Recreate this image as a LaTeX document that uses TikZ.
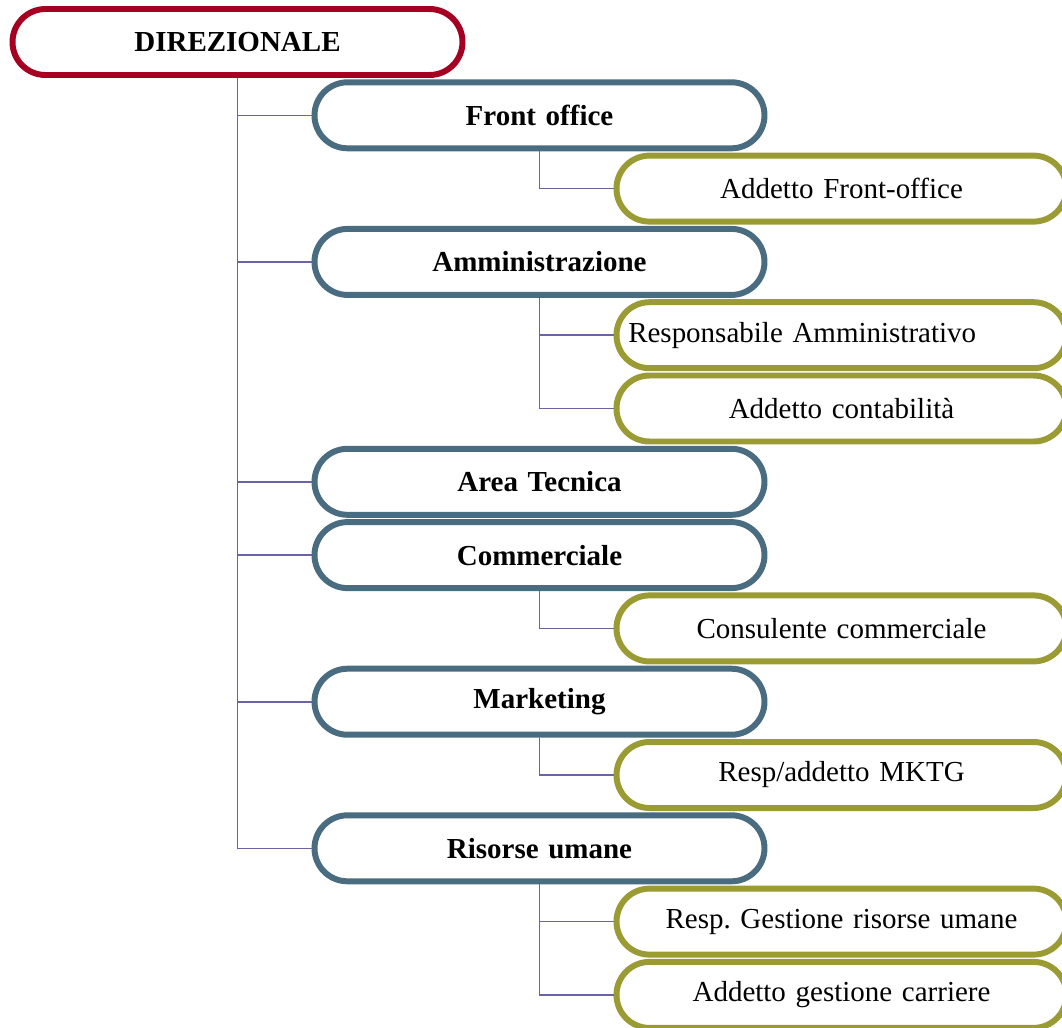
\documentclass[tikz,border=0pt]{standalone}
\usepackage{fontspec}
\setmainfont{Liberation Serif}
\usepackage{xcolor}
\frenchspacing
\definecolor{dirred}{RGB}{165,0,33}
\definecolor{areablue}{RGB}{74,108,128}
\definecolor{ruologreen}{RGB}{155,155,52}
\definecolor{linea}{RGB}{106,99,166}
\tikzset{
  box/.style={draw, fill=white, line width=3.4pt, rounded corners=0.66cm,
    minimum width=9cm, minimum height=1.32cm, inner xsep=0.234cm,
    text width=8.53cm, align=center, font=\fontsize{16.5}{19}\selectfont},
  capo/.style={box, draw=dirred, font=\fontsize{16.5}{19}\selectfont\bfseries},
  area/.style={box, draw=areablue, font=\fontsize{16.5}{19}\selectfont\bfseries},
  ruolo/.style={box, draw=ruologreen},
  link/.style={draw=linea, line width=0.9pt}
}

\begin{document}
\begin{tikzpicture}
            \useasboundingbox (0,0) rectangle (21.24,-20.54);
            % vertice
            \node[capo] (dir) at (4.75,-0.84) {DIREZIONALE};
            % aree
            \node[area] (front) at (10.79,-2.306) {Front office};
            \node[area] (amm) at (10.79,-5.238) {Amministrazione};
            \node[area] (tec) at (10.79,-9.636) {Area Tecnica};
            \node[area] (comm) at (10.79,-11.102) {Commerciale};
            \node[area] (mktg) at (10.79,-14.034) {Marketing};
            \node[area] (ru) at (10.79,-16.966) {Risorse umane};
            % ruoli
            \node[ruolo] (addfront) at (16.83,-3.772) {Addetto Front-office};
            \node[ruolo, align=left] (respamm) at (16.83,-6.704) {Responsabile Amministrativo};
            \node[ruolo] (addcont) at (16.83,-8.17) {Addetto contabilità};
            \node[ruolo] (cons) at (16.83,-12.568) {Consulente commerciale};
            \node[ruolo] (respmktg) at (16.83,-15.50) {Resp/addetto MKTG};
            \node[ruolo] (respru) at (16.83,-18.432) {Resp. Gestione risorse umane};
            \node[ruolo] (addcarr) at (16.83,-19.898) {Addetto gestione carriere};
            % collegamenti
            \draw[link] (dir.south) |- (front.west);
            \draw[link] (dir.south) |- (amm.west);
            \draw[link] (dir.south) |- (tec.west);
            \draw[link] (dir.south) |- (comm.west);
            \draw[link] (dir.south) |- (mktg.west);
            \draw[link] (dir.south) |- (ru.west);
            \draw[link] (front.south) |- (addfront.west);
            \draw[link] (amm.south) |- (respamm.west);
            \draw[link] (amm.south) |- (addcont.west);
            \draw[link] (comm.south) |- (cons.west);
            \draw[link] (mktg.south) |- (respmktg.west);
            \draw[link] (ru.south) |- (respru.west);
            \draw[link] (ru.south) |- (addcarr.west);
        \end{tikzpicture}
\end{document}
